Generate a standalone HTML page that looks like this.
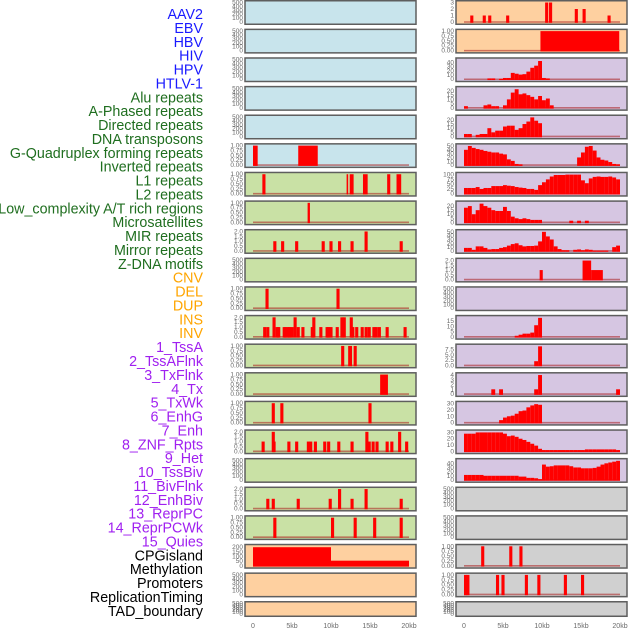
<!DOCTYPE html>
<html><head><meta charset="utf-8">
<style>
html,body{margin:0;padding:0;background:#fff;width:630px;height:630px;overflow:hidden;font-family:"Liberation Sans",sans-serif;}
</style></head>
<body>
<svg id="chart" width="630" height="630" xmlns="http://www.w3.org/2000/svg"></svg>
<script>
// ---------- track labels ----------
const labels = ["AAV2","EBV","HBV","HIV","HPV","HTLV-1","Alu repeats","A-Phased repeats","Directed repeats","DNA transposons","G-Quadruplex forming repeats","Inverted repeats","L1 repeats","L2 repeats","Low_complexity A/T rich regions","Microsatellites","MIR repeats","Mirror repeats","Z-DNA motifs","CNV","DEL","DUP","INS","INV","1_TssA","2_TssAFlnk","3_TxFlnk","4_Tx","5_TxWk","6_EnhG","7_Enh","8_ZNF_Rpts","9_Het","10_TssBiv","11_BivFlnk","12_EnhBiv","13_ReprPC","14_ReprPCWk","15_Quies","CPGisland","Methylation","Promoters","ReplicationTiming","TAD_boundary"];
const labelGroups = ["v","v","v","v","v","v","r","r","r","r","r","r","r","r","r","r","r","r","r","s","s","s","s","s","c","c","c","c","c","c","c","c","c","c","c","c","c","c","c","k","k","k","k","k"];
const xTicks = [0,5,10,15,20];
const xTickLabels = ["0","5kb","10kb","15kb","20kb"];

// ---------- left column data ----------
const L5seg = [[0,0.6,1],[5.8,8.3,1]];
const L6seg = [[1.2,1.6,1],[12.0,12.2,1],[12.4,12.9,1],[14.1,14.7,1],[17.2,17.6,1],[18.4,19.0,1]];
const L7seg = [[7.0,7.3,1]];
const L8spk = [[2.8,1],[3.8,1],[5.6,1],[9.0,1],[10.0,1],[11.1,1],[12.7,1],[14.5,2],[19.0,1]];
const L10spk = [[1.8,1],[10.9,1]];
const L11spk = [[1.5,1],[1.9,1],[2.7,2],[3.1,1],[3.3,1],[4.0,1],[4.2,1],[4.5,1],[4.7,1],[5.0,1],[5.4,2],[5.8,1],[6.4,1],[7.6,1],[7.8,2],[8.7,1],[9.5,1],[9.7,1],[10.0,1],[10.8,1],[11.4,2],[11.7,2],[12.6,2],[12.8,1],[13.3,1],[14.0,1],[14.5,1],[14.9,1],[15.5,1],[15.8,1],[16.2,1],[17.2,1],[19.5,1]];
const L12seg = [[11.3,11.7,1],[12.2,12.7,1],[12.9,13.3,1]];
const L13seg = [[16.3,17.3,1]];
const L14spk = [[2.6,1],[3.7,1],[15.0,1]];
const L15spk = [[1.3,1],[2.6,2],[2.7,1],[4.6,1],[5.6,1],[7.1,1],[7.4,1],[8.0,1],[9.2,1],[9.7,1],[11.0,1],[12.7,1],[14.6,2],[14.9,1],[15.4,1],[15.9,1],[17.2,1],[17.8,1],[18.8,2],[19.7,1]];
const L17spk = [[1.9,1],[2.6,1],[5.8,1],[9.9,1],[11.1,2],[12.7,1],[14.5,2],[19.0,1]];
const L18spk = [[2.8,1],[10.2,1],[13.1,1],[15.6,1],[19.0,1]];
const L19seg = [[0,10,200],[10,20,55]];

// ---------- right column data ----------
const R0spk = [[1.0,1],[2.6,1],[3.3,1],[5.6,1],[10.6,3],[11.1,3],[14.4,2],[15.4,2],[18.6,1]];
const R1seg = [[9.8,19.9,1]];
const R2bins = [0,0,0,0,0,0,2,2,0,1,3,3,15,13,11,12,18,27,32,43,3,2,0,0,0,0,0,0,0,0,0,0,0,0,0,0,0,0,0,0];
const R3bins = [2,0,0,0,0,3,4,2,2,0,3,10,18,22,16,17,15,13,10,14,9,11,3,0,0,0,0,0,0,0,0,0,0,0,0,0,0,0,0,0];
const R4bins = [3,3,0,2,3,3,10,5,7,7,12,13,13,8,10,15,18,23,19,16,0,0,0,0,0,0,0,0,0,0,0,0,0,0,0,0,0,0,0,0];
const R5bins = [40,50,45,42,40,37,35,33,33,30,28,15,11,3,2,0,0,0,0,0,0,0,0,0,0,0,0,0,0,20,33,48,50,38,20,14,12,8,3,2];
const R6bins = [30,30,30,35,25,30,30,40,40,40,45,42,40,35,32,30,25,25,20,45,60,75,90,98,98,98,100,100,100,100,70,55,80,88,90,88,88,90,85,75];
const R7bins = [18,20,10,15,23,20,18,15,14,14,19,14,7,5,4,5,4,3,3,3,0,0,0,0,0,0,0,2,0,2,0,2,0,0,0,0,0,0,0,0];
const R8bins = [8,8,3,12,12,8,4,5,5,8,10,14,18,20,15,12,13,13,14,25,50,38,30,12,5,2,2,0,3,4,2,4,3,1,1,1,1,0,10,14];
const R9seg = [[9.7,10.1,1],[15.2,16.3,2],[16.3,17.8,1]];
const R11bins = [0,0,0,0,0,0,0,0,0,0,0,0,0,1,2,3,3,4,11,18,0,0,0,0,0,0,0,0,0,0,0,0,0,0,0,0,0,0,0,0];
const R12bins = [0,0,0,0,0,0,0,0,0,0,0,0,0,0,0,0,0,0,2,9,0,0,0,0,0,0,0,0,0,0,0,0,0,0,0,0,0,0,0,0];
const R13bins = [0,0,0,0,0,0,0,1,0,1,0,0,0,0,0,0,0,0,1,4,0,0,0,0,0,0,0,0,0,0,0,0,0,0,0,0,0,0,0,1];
const R14bins = [0,0,0,0,0,0,0,0,0,4,8,10,11,14,18,19,24,27,29,28,0,0,0,0,0,0,0,0,0,0,0,0,0,0,0,0,0,0,0,0];
const R15bins = [28,28,28,30,30,30,30,30,30,30,28,24,25,23,20,18,15,12,9,4,2,2,2,2,2,2,2,2,2,2,2,3,3,3,3,3,3,3,3,2];
const R16bins = [12,12,12,12,12,10,10,10,10,10,10,10,10,10,8,8,5,5,4,2,37,32,33,35,35,35,35,33,30,30,28,28,28,29,32,37,40,42,44,46];
const R19spk = [[2.4,1],[6.0,1],[7.3,1]];
const R20spk = [[0.2,1],[0.5,1],[4.3,1],[5.0,1],[8.0,1],[9.6,1],[13.0,1],[15.2,1]];

const tkEmpty = [0,100,200,300,400,500];
const tkUnit = [0,0.25,0.5,0.75,1];
const tkTwo = [0,0.5,1,1.5,2];

const BG = {b:"#c8e4ec",g:"#c9e1a5",o:"#fed0a0",p:"#d6c6e2",y:"#d0d0d0"};
const leftPanels = [
 {bg:"b",t:tkEmpty},{bg:"b",t:tkEmpty},{bg:"b",t:tkEmpty},{bg:"b",t:tkEmpty},{bg:"b",t:tkEmpty},
 {bg:"b",t:tkUnit,seg:L5seg},
 {bg:"g",t:tkUnit,seg:L6seg},{bg:"g",t:tkUnit,seg:L7seg},{bg:"g",t:tkTwo,spk:L8spk},{bg:"g",t:tkEmpty},
 {bg:"g",t:tkUnit,spk:L10spk},{bg:"g",t:tkTwo,spk:L11spk},{bg:"g",t:tkUnit,seg:L12seg},{bg:"g",t:tkUnit,seg:L13seg},
 {bg:"g",t:tkUnit,spk:L14spk},{bg:"g",t:tkTwo,spk:L15spk},{bg:"g",t:tkEmpty},{bg:"g",t:tkTwo,spk:L17spk},
 {bg:"g",t:tkUnit,spk:L18spk},
 {bg:"o",t:[0,50,100,150,200],max:210,seg:L19seg},{bg:"o",t:tkEmpty},{bg:"o",t:tkEmpty}
];
const rightPanels = [
 {bg:"o",t:[0,1,2,3],spk:R0spk},{bg:"o",t:tkUnit,seg:R1seg},
 {bg:"p",t:[0,10,20,30,40],max:46,bins:R2bins},{bg:"p",t:[0,5,10,15,20],max:23,bins:R3bins},
 {bg:"p",t:[0,5,10,15,20],max:23.5,bins:R4bins},{bg:"p",t:[0,10,20,30,40,50],max:51,bins:R5bins},
 {bg:"p",t:[0,25,50,75,100],max:102,bins:R6bins},{bg:"p",t:[0,5,10,15,20],max:24,bins:R7bins},
 {bg:"p",t:[0,10,20,30,40,50],max:51,bins:R8bins},{bg:"p",t:[0,0.5,1,1.5,2],max:2.05,seg:R9seg,fmt:1},
 {bg:"p",t:tkEmpty},{bg:"p",t:[0,5,10,15],max:18.5,bins:R11bins},{bg:"p",t:[0,2.5,5,7.5],max:9.2,bins:R12bins,fmt:1},
 {bg:"p",t:[0,1,2,3,4],max:4.1,bins:R13bins},{bg:"p",t:[0,10,20,30],max:30.5,bins:R14bins},
 {bg:"p",t:[0,10,20,30],max:31,bins:R15bins},{bg:"p",t:[0,10,20,30,40],max:47,bins:R16bins},
 {bg:"y",t:tkEmpty},{bg:"y",t:tkEmpty},{bg:"y",t:tkUnit,spk:R19spk},{bg:"y",t:tkUnit,spk:R20spk},{bg:"y",t:tkEmpty}
];

const NS = "http://www.w3.org/2000/svg";
const svg = document.getElementById("chart");
function mk(tag, attrs, parent){
  const e = document.createElementNS(NS, tag);
  for (const k in attrs) e.setAttribute(k, attrs[k]);
  (parent||svg).appendChild(e);
  return e;
}
const ROWPITCH = 28.62;
function rowTop(i){ return i*ROWPITCH; }
function rowH(i){ return i===21 ? 16 : 25; }
const COLX = [245, 456];
const PW = 171;
function xScale(col, kb){ return COLX[col] + 8 + kb*7.8; }

const colorMap = {v:"#1a1aff",r:"#1f6e1f",s:"#ffa500",c:"#a020f0",k:"#000"};
labels.forEach((txt,i)=>{
  const t = mk("text",{x:203,y:(14+i*13.88+5).toFixed(1),"text-anchor":"end","font-size":"14.3",fill:colorMap[labelGroups[i]],"font-family":"Liberation Sans, sans-serif"});
  
  
  t.textContent = txt;
});

function fmtTick(v, ticks, p){
  const step = ticks[1]-ticks[0];
  if (step===0.25) return v.toFixed(2);
  if (step===0.5 || p.fmt) return v.toFixed(1);
  return String(v);
}

function drawPanel(col, i, p){
  const top = rowTop(i), h = rowH(i), x0 = COLX[col];
  const g = mk("g",{});
  
  
  const r = mk("rect",{x:x0,y:top+0.75,width:PW,height:h-1.5,fill:BG[p.bg],stroke:"#5e5e5e","stroke-width":1.5},g);
  
  
  const ymax = p.max || p.t[p.t.length-1];
  const y0 = top + h - 3, y1 = top + 2.5;
  const ys = v => y0 - (v/ymax)*(y0-y1);
  p.t.forEach(v=>{
    const tt = mk("text",{x:x0-2,y:(ys(v)+2).toFixed(1),"text-anchor":"end","font-size":"6.5",fill:"#6a6a6a","font-family":"Liberation Sans, sans-serif"},g);
    
    
    tt.textContent = fmtTick(v,p.t,p);
  });
  const hasData = p.seg||p.spk||p.bins;
  if (hasData){
    const bl = mk("line",{x1:xScale(col,0),x2:xScale(col,20),y1:y0,y2:y0,stroke:"rgba(170,30,30,0.55)","stroke-width":1.6},g);
    
    
  }
  const bar = (a,b,v)=>{
    const x = xScale(col,a), w = Math.max(1, xScale(col,b)-x);
    const rr = mk("rect",{x:x.toFixed(2),y:ys(v).toFixed(2),width:w.toFixed(2),height:(y0-ys(v)+0.8).toFixed(2),fill:"#ff0000"},g);
    
    
  };
  if (p.seg) p.seg.forEach(s=>bar(s[0],s[1],s[2]));
  if (p.spk) p.spk.forEach(s=>bar(s[0]-0.2,s[0]+0.2,s[1]));
  if (p.bins) p.bins.forEach((v,k)=>{ if (v>0) bar(k*0.5,k*0.5+0.5,v); });
}
leftPanels.forEach((p,i)=>drawPanel(0,i,p));
rightPanels.forEach((p,i)=>drawPanel(1,i,p));

[0,1].forEach(col=>{
  xTicks.forEach((kb,j)=>{
    const t = mk("text",{x:xScale(col,kb).toFixed(1),y:628,"text-anchor":"middle","font-size":"7",fill:"#6a6a6a","font-family":"Liberation Sans, sans-serif"});
    
    
    t.textContent = xTickLabels[j];
  });
});
</script>
</body></html>
